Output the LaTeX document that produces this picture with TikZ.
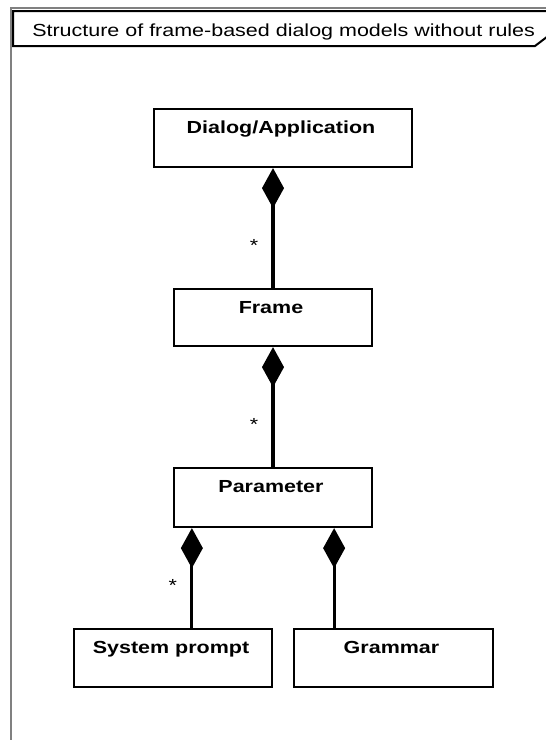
\documentclass[tikz,border=0pt]{standalone}
\usepackage{fontspec}
\setmainfont{Liberation Sans}[FakeStretch=1.23]
\usetikzlibrary{arrows.meta,calc}

\begin{document}
\begin{tikzpicture}[x=0.75pt,y=-0.75pt,
  txt/.style={inner sep=0pt, font=\fontsize{13.1pt}{15pt}\selectfont},
  box/.style={draw=black, line width=1.7pt, fill=white, rectangle, inner sep=0pt,
              minimum width=148.5pt, minimum height=43.5pt},
  boxtitle/.style={txt, anchor=base, font=\fontsize{13.1pt}{15pt}\selectfont\bfseries},
  comp/.style={line width=2.4pt, {Diamond[length=30pt,width=16.5pt]}-},
  mult/.style={txt, anchor=base},
  outer/.style={draw=black!50, line width=1.5pt},
  tab/.style={draw=black, line width=1.5pt, fill=white}]

\useasboundingbox (0,0) rectangle (546,740);
\clip (0,0) rectangle (546,740);

% package frame and its name tab
\draw[outer] (11,748) -- (11,8) -- (556,8);
\draw[tab] (13,11) -- (556,11) -- (556,30) -- (535,46) -- (13,46) -- cycle;
\node[txt, anchor=base west] (title) at (32,36.5)
  {Structure of frame-based dialog models without rules};

% classes
\node[box, minimum width=193.5pt] (dialog) at (283,138) {};
\node[box, minimum height=42.75pt] (frame) at (273,317.5) {};
\node[box, minimum height=44.25pt] (param) at (273,497.5) {};
\node[box] (sys) at (173,658) {};
\node[box, minimum width=149.25pt] (gram) at (393.5,658) {};

\node[boxtitle] (dialogT) at ($(dialog.north)+(-2,26)$) {Dialog/Application};
\node[boxtitle] (frameT) at ($(frame.north)+(-2,26)$) {Frame};
\node[boxtitle] (paramT) at ($(param.north)+(-2,26)$) {Parameter};
\node[boxtitle] (sysT) at ($(sys.north)+(-2,26)$) {System prompt};
\node[boxtitle] (gramT) at ($(gram.north)+(-2,26)$) {Grammar};

% composition links
\coordinate (pl) at ($(param.south west)+(19,0)$);
\coordinate (pr) at ($(param.south east)+(-39,0)$);
\draw[comp] (dialog.south -| frame.north) -- (frame.north);
\draw[comp] (frame.south) -- (param.north);
\draw[comp] (pl) -- (pl |- sys.north);
\draw[comp] (pr) -- (pr |- gram.north);

% multiplicities
\node[mult] (m1) at ($(frame.north)+(-19,-36)$) {*};
\node[mult] (m2) at ($(param.north)+(-19,-36)$) {*};
\node[mult] (m3) at ($(pl |- sys.north)+(-19,-36)$) {*};
\end{tikzpicture}
\end{document}
